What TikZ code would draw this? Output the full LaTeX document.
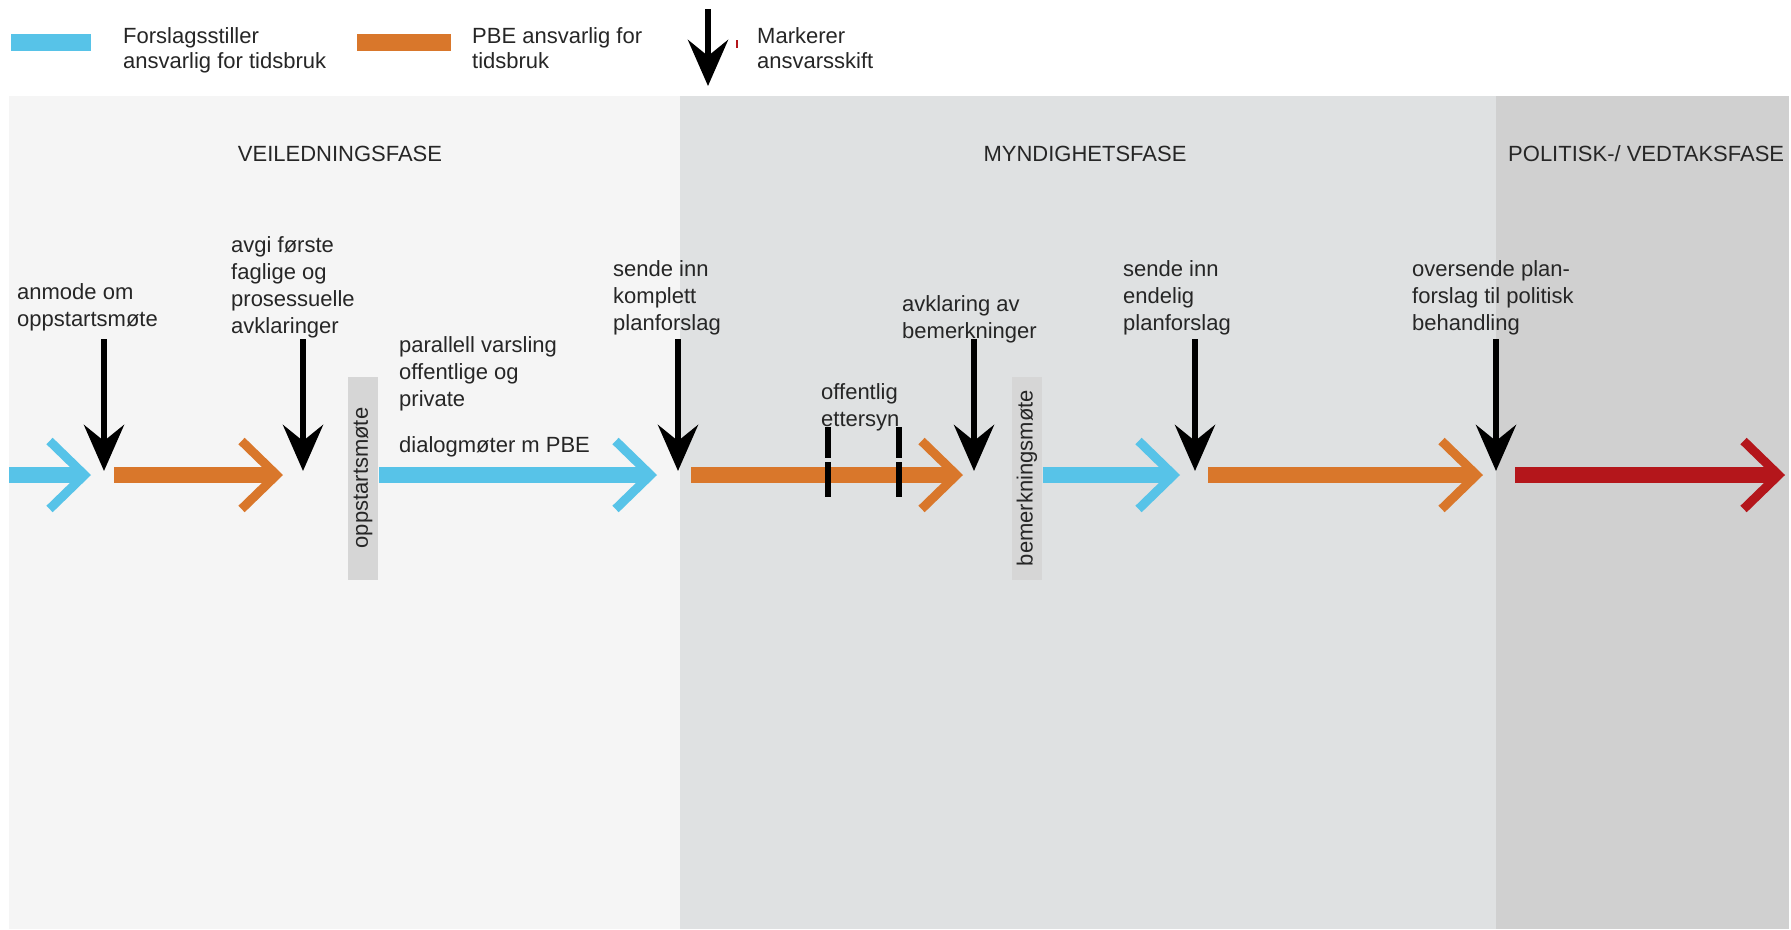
\documentclass[tikz,border=0pt]{standalone}
\usepackage{fontspec}
\setmainfont{Liberation Sans}
\usetikzlibrary{arrows.meta}

\definecolor{fsblue}{RGB}{87,195,232}
\definecolor{pbeorange}{RGB}{217,119,43}
\definecolor{polred}{RGB}{180,22,27}
\definecolor{fase1}{RGB}{245,245,245}
\definecolor{fase2}{RGB}{223,225,226}
\definecolor{fase3}{RGB}{208,208,208}
\definecolor{motegray}{RGB}{214,214,214}

\begin{document}
\begin{tikzpicture}[x=1pt, y=-1pt,
    every node/.style={font=\fontsize{22}{27}\selectfont, inner sep=0pt, text=black!85},
    etikett/.style={anchor=north west, align=left},
    legende/.style={etikett, font=\fontsize{22}{25}\selectfont},
    tidslinje/.style={line width=16pt, -{Straight Barb[length=35pt, width=68pt, line width=9pt]}},
    skift/.style={line width=6.5pt, black, -{Stealth[length=46pt, width=40pt, inset=16pt]}},
    motebox/.style={fill=motegray, rotate=90, minimum width=203pt, minimum height=30pt}]

        % Bakgrunn
        \fill[white] (0,0) rectangle (1791,929);
        \useasboundingbox (0,0) rectangle (1791,929);

        % Faser
        \fill[fase1] (9,96) rectangle (680,929);
        \fill[fase2] (680,96) rectangle (1496,929);
        \fill[fase3] (1496,96) rectangle (1789,929);
        \node (veiledning) at (340,153.5) {VEILEDNINGSFASE};
        \node (myndighet) at (1085,153.5) {MYNDIGHETSFASE};
        \node[anchor=west] (politisk) at (1508,153.5) {POLITISK-/ VEDTAKSFASE};

        % Forklaring
        \fill[fsblue] (11,34) rectangle (91,51);
        \node[legende] (legfs) at (123,27) {Forslagsstiller\\ansvarlig for tidsbruk};
        \fill[pbeorange] (357,34) rectangle (451,51);
        \node[legende] (legpbe) at (472,27) {PBE ansvarlig for\\tidsbruk};
        \coordinate (legtopp) at (708,9);
        \coordinate (legspiss) at (708,86);
        \draw[skift] (legtopp) -- (legspiss);
        \fill[polred] (736,40) rectangle (738,48);
        \node[legende] (legskift) at (757,27) {Markerer\\ansvarsskift};

        % Tidslinje
        \foreach \fra/\til/\farge in {9/91/fsblue, 114/283/pbeorange, 379/657/fsblue,
            691/963/pbeorange, 1043/1180/fsblue, 1208/1483/pbeorange, 1515/1785/polred}
            \draw[tidslinje, \farge] (\fra,475) -- (\til,475);

        % Offentlig ettersyn
        \foreach \x in {828,899} {
            \fill[black] (\x-3,427) rectangle (\x+3,458);
            \fill[black] (\x-3,462) rectangle (\x+3,497);
        }

        % Moter
        \node[motebox] (oppstart) at (363,478) {oppstartsmøte};
        \node[motebox] (bemerkning) at (1027,478) {bemerkningsmøte};

        % Ansvarsskift
        \foreach \x [count=\i] in {104,303,678,974,1195,1496} {
            \coordinate (topp\i) at (\x,339);
            \coordinate (skift\i) at (\x,471);
            \draw[skift] (topp\i) -- (skift\i);
        }

        % Etiketter
        \node[etikett] (anmode) at (17,283) {anmode om\\oppstartsmøte};
        \node[etikett] (avgi) at (231,236) {avgi første\\faglige og\\prosessuelle\\avklaringer};
        \node[etikett] (varsling) at (399,336) {parallell varsling\\offentlige og\\private};
        \node[etikett] (dialog) at (399,436) {dialogmøter m PBE};
        \node[etikett] (komplett) at (613,260) {sende inn\\komplett\\planforslag};
        \node[etikett] (ettersyn) at (821,383) {offentlig\\ettersyn};
        \node[etikett] (avklaring) at (902,295) {avklaring av\\bemerkninger};
        \node[etikett] (endelig) at (1123,260) {sende inn\\endelig\\planforslag};
        \node[etikett] (oversende) at (1412,260) {oversende plan-\\forslag til politisk\\behandling};

    \end{tikzpicture}
\end{document}
